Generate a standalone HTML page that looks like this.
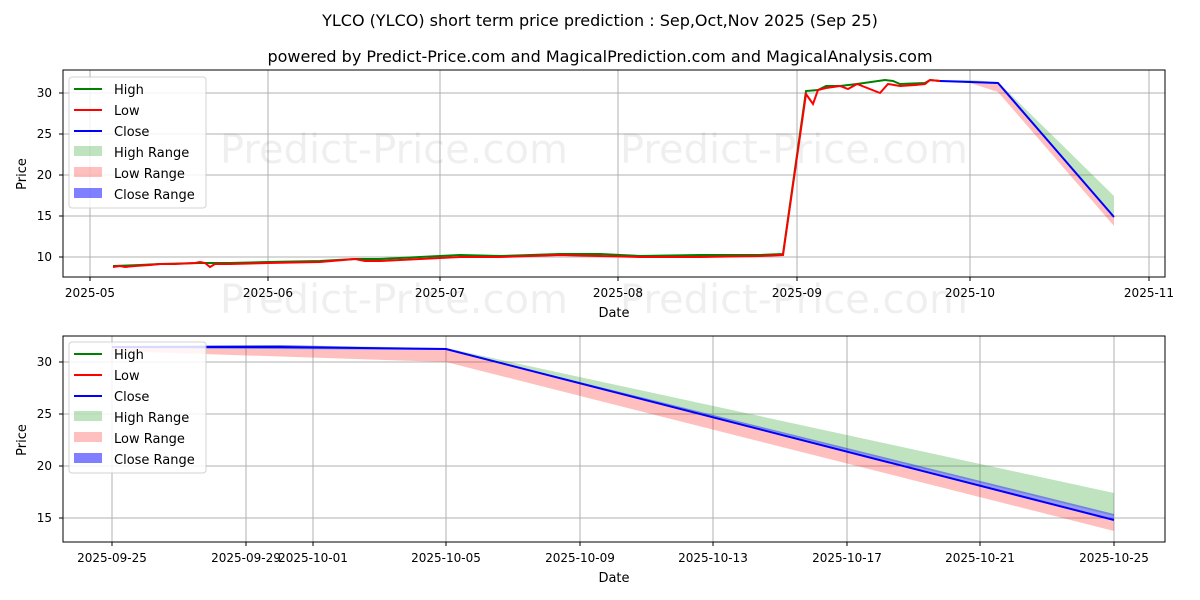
<!DOCTYPE html>
<html><head><meta charset="utf-8"><style>body{margin:0;background:#fff}svg{display:block}text{font-family:"DejaVu Sans","Liberation Sans",sans-serif}</style></head><body>
<svg width="1200" height="600" viewBox="0 0 1200 600" xmlns="http://www.w3.org/2000/svg">
<text x="600" y="26" font-size="16" text-anchor="middle">YLCO (YLCO) short term price prediction : Sep,Oct,Nov 2025 (Sep 25)</text>
<text x="600" y="62" font-size="16" text-anchor="middle">powered by Predict-Price.com and MagicalPrediction.com and MagicalAnalysis.com</text>
<!-- top chart -->
<g stroke="#b0b0b0" stroke-width="1">
<line x1="90" y1="70" x2="90" y2="277"/><line x1="268" y1="70" x2="268" y2="277"/><line x1="440" y1="70" x2="440" y2="277"/><line x1="618" y1="70" x2="618" y2="277"/><line x1="797" y1="70" x2="797" y2="277"/><line x1="970" y1="70" x2="970" y2="277"/><line x1="1149" y1="70" x2="1149" y2="277"/>
<line x1="63" y1="257" x2="1165" y2="257"/><line x1="63" y1="216" x2="1165" y2="216"/><line x1="63" y1="175" x2="1165" y2="175"/><line x1="63" y1="134" x2="1165" y2="134"/><line x1="63" y1="93" x2="1165" y2="93"/>
</g>
<g font-size="40" fill="#000" opacity="0.06"><text x="220" y="163">Predict-Price.com</text><text x="620" y="163">Predict-Price.com</text><text x="220" y="313">Predict-Price.com</text><text x="620" y="313">Predict-Price.com</text></g>
<polygon points="940,80 970,80 998,82 1114,196 1114,218 998,84 970,83 940,81" fill="#2ca02c" opacity="0.3"/>
<polygon points="940,81 970,83 998,92 1114,226 1114,216 998,83 970,82 940,80" fill="#ff0000" opacity="0.25"/>
<polyline fill="none" stroke="#008000" stroke-width="2" points="113,266 140,265 160,264 200,263 230,263 268,262 320,261 355,259 380,259 400,258 440,256 460,255 500,256 560,254 600,254 640,256 700,255 760,255 783,254 806,91 818,90 826,86 840,86 857,84 885,80 893,81 900,84 925,83 930,80 940,81"/>
<polyline fill="none" stroke="#ff0000" stroke-width="2" points="113,267 120,266 125,267 135,266 150,265 160,264 175,264 195,263 200,262 205,263 210,267 215,264 230,264 268,263 320,262 355,259 365,261 380,261 400,260 440,258 460,257 500,257 560,255 600,256 640,257 700,257 760,256 783,255 806,94 813,104 818,90 826,88 840,86 848,89 857,84 880,93 888,84 900,86 915,85 925,84 930,80 940,81"/>
<polyline fill="none" stroke="#0000ff" stroke-width="2" points="940,81 970,82 998,83 1114,217"/>
<rect x="63" y="70" width="1102" height="207" fill="none" stroke="#000"/>
<g font-size="12" text-anchor="end"><text x="52" y="261">10</text><text x="52" y="220">15</text><text x="52" y="179">20</text><text x="52" y="138">25</text><text x="52" y="97">30</text></g>
<g font-size="12" text-anchor="middle"><text x="90" y="297">2025-05</text><text x="268" y="297">2025-06</text><text x="440" y="297">2025-07</text><text x="618" y="297">2025-08</text><text x="797" y="297">2025-09</text><text x="970" y="297">2025-10</text><text x="1149" y="297">2025-11</text>
<text x="614" y="317" font-size="13">Date</text></g>
<g stroke="#000"><line x1="90" y1="277" x2="90" y2="281"/><line x1="268" y1="277" x2="268" y2="281"/><line x1="440" y1="277" x2="440" y2="281"/><line x1="618" y1="277" x2="618" y2="281"/><line x1="797" y1="277" x2="797" y2="281"/><line x1="970" y1="277" x2="970" y2="281"/><line x1="1149" y1="277" x2="1149" y2="281"/>
<line x1="59" y1="257" x2="63" y2="257"/><line x1="59" y1="216" x2="63" y2="216"/><line x1="59" y1="175" x2="63" y2="175"/><line x1="59" y1="134" x2="63" y2="134"/><line x1="59" y1="93" x2="63" y2="93"/></g>
<text x="26" y="174" font-size="13" text-anchor="middle" transform="rotate(-90 26 174)">Price</text>
<g font-size="13"><rect x="69" y="77" width="137" height="131" rx="3" fill="#fff" opacity="0.85" stroke="#ccc"/>
<line x1="74" y1="89" x2="102" y2="89" stroke="#008000" stroke-width="2"/><text x="114" y="94">High</text>
<line x1="74" y1="110" x2="102" y2="110" stroke="#ff0000" stroke-width="2"/><text x="114" y="115">Low</text>
<line x1="74" y1="131" x2="102" y2="131" stroke="#0000ff" stroke-width="2"/><text x="114" y="136">Close</text>
<rect x="74" y="146" width="28" height="10" fill="#2ca02c" opacity="0.3"/><text x="114" y="157">High Range</text>
<rect x="74" y="167" width="28" height="10" fill="#ff0000" opacity="0.25"/><text x="114" y="178">Low Range</text>
<rect x="74" y="188" width="28" height="10" fill="#0000ff" opacity="0.5"/><text x="114" y="199">Close Range</text></g>
<!-- bottom chart -->
<g stroke="#b0b0b0" stroke-width="1">
<line x1="112" y1="336" x2="112" y2="542"/><line x1="246" y1="336" x2="246" y2="542"/><line x1="313" y1="336" x2="313" y2="542"/><line x1="446" y1="336" x2="446" y2="542"/><line x1="580" y1="336" x2="580" y2="542"/><line x1="713" y1="336" x2="713" y2="542"/><line x1="847" y1="336" x2="847" y2="542"/><line x1="980" y1="336" x2="980" y2="542"/><line x1="1114" y1="336" x2="1114" y2="542"/>
<line x1="63" y1="518" x2="1165" y2="518"/><line x1="63" y1="466" x2="1165" y2="466"/><line x1="63" y1="414" x2="1165" y2="414"/><line x1="63" y1="362" x2="1165" y2="362"/>
</g>
<polygon points="112,346 280,345 446,348 1114,493 1114,516 446,350 112,348" fill="#2ca02c" opacity="0.3"/>
<polygon points="112,348 446,350 1114,520 1114,531 446,362 112,351" fill="#ff0000" opacity="0.25"/>
<polygon points="112,346 280,345 446,349 1114,514 1114,520 446,350 112,348" fill="#0000ff" opacity="0.4"/>
<polyline fill="none" stroke="#0000ff" stroke-width="2" points="112,347 280,347 446,349 1114,520"/>
<rect x="63" y="336" width="1102" height="206" fill="none" stroke="#000"/>
<g font-size="12" text-anchor="end"><text x="52" y="522">15</text><text x="52" y="470">20</text><text x="52" y="418">25</text><text x="52" y="366">30</text></g>
<g font-size="12" text-anchor="middle"><text x="112" y="562">2025-09-25</text><text x="246" y="562">2025-09-29</text><text x="313" y="562">2025-10-01</text><text x="446" y="562">2025-10-05</text><text x="580" y="562">2025-10-09</text><text x="713" y="562">2025-10-13</text><text x="847" y="562">2025-10-17</text><text x="980" y="562">2025-10-21</text><text x="1114" y="562">2025-10-25</text>
<text x="614" y="582" font-size="13">Date</text></g>
<g stroke="#000"><line x1="112" y1="542" x2="112" y2="546"/><line x1="246" y1="542" x2="246" y2="546"/><line x1="313" y1="542" x2="313" y2="546"/><line x1="446" y1="542" x2="446" y2="546"/><line x1="580" y1="542" x2="580" y2="546"/><line x1="713" y1="542" x2="713" y2="546"/><line x1="847" y1="542" x2="847" y2="546"/><line x1="980" y1="542" x2="980" y2="546"/><line x1="1114" y1="542" x2="1114" y2="546"/>
<line x1="59" y1="518" x2="63" y2="518"/><line x1="59" y1="466" x2="63" y2="466"/><line x1="59" y1="414" x2="63" y2="414"/><line x1="59" y1="362" x2="63" y2="362"/></g>
<text x="26" y="440" font-size="13" text-anchor="middle" transform="rotate(-90 26 440)">Price</text>
<g font-size="13"><rect x="69" y="342" width="137" height="131" rx="3" fill="#fff" opacity="0.85" stroke="#ccc"/>
<line x1="74" y1="354" x2="102" y2="354" stroke="#008000" stroke-width="2"/><text x="114" y="359">High</text>
<line x1="74" y1="375" x2="102" y2="375" stroke="#ff0000" stroke-width="2"/><text x="114" y="380">Low</text>
<line x1="74" y1="396" x2="102" y2="396" stroke="#0000ff" stroke-width="2"/><text x="114" y="401">Close</text>
<rect x="74" y="411" width="28" height="10" fill="#2ca02c" opacity="0.3"/><text x="114" y="422">High Range</text>
<rect x="74" y="432" width="28" height="10" fill="#ff0000" opacity="0.25"/><text x="114" y="443">Low Range</text>
<rect x="74" y="453" width="28" height="10" fill="#0000ff" opacity="0.5"/><text x="114" y="464">Close Range</text></g>
</svg>
</body></html>
